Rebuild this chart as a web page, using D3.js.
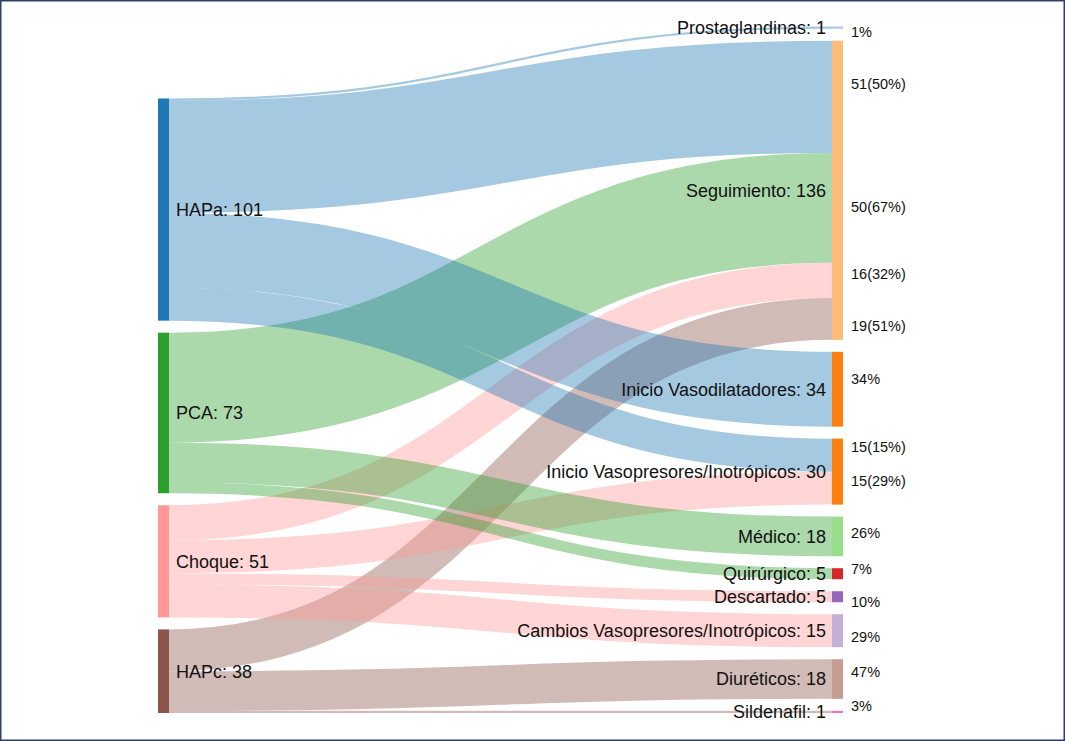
<!DOCTYPE html>
<html>
<head>
<meta charset="utf-8">
<script src="https://cdn.jsdelivr.net/npm/d3@7"></script>
<style>
  body { margin: 0; background: #fff; }
  svg { display: block; font-family: "Liberation Sans", Arial, Helvetica, sans-serif; }
</style>
</head>
<body>
<svg width="1065" height="741"></svg>
<script>
// nodes, left column then right column
let sources = ['HAPa', 'PCA', 'Choque', 'HAPc'];
let targets = [
  'Prostaglandinas',
  'Seguimiento',
  'Inicio Vasodilatadores',
  'Inicio Vasopresores/Inotrópicos',
  'Médico',
  'Quirúrgico',
  'Descartado',
  'Cambios Vasopresores/Inotrópicos',
  'Diuréticos',
  'Sildenafil',
];

// links, listed in target order (this is also the drawing order)
let linkSource = ['HAPa', 'HAPa', 'PCA', 'Choque', 'HAPc', 'HAPa', 'HAPa', 'Choque', 'PCA', 'PCA', 'Choque', 'Choque', 'HAPc', 'HAPc'];
let linkTarget = [
  'Prostaglandinas',
  'Seguimiento',
  'Seguimiento',
  'Seguimiento',
  'Seguimiento',
  'Inicio Vasodilatadores',
  'Inicio Vasopresores/Inotrópicos',
  'Inicio Vasopresores/Inotrópicos',
  'Médico',
  'Quirúrgico',
  'Descartado',
  'Cambios Vasopresores/Inotrópicos',
  'Diuréticos',
  'Sildenafil',
];
let linkValue = [1, 51, 50, 16, 19, 34, 15, 15, 18, 5, 5, 15, 18, 1];
// annotations written to the right of the chart
let linkNote = ['1%', '51(50%)', '50(67%)', '16(32%)', '19(51%)', '34%', '15(15%)', '15(29%)', '26%', '7%', '10%', '29%', '47%', '3%'];

// hand placement of the annotations relative to their link end (px)
let noteNudge = [4, -13, -1, -7, 7, -10, -8, -7, -3, -5, 5, 6, -7, -6];

let color = d3
  .scaleOrdinal()
  .domain([...sources, ...targets])
  .range([
    '#1f77b4', '#2ca02c', '#ff9896', '#8c564b',
    '#aec7e8', '#ffbb78', '#ff7f0e', '#ff7f0e', '#98df8a', '#d62728', '#9467bd', '#c5b0d5', '#c49c94', '#e377c2',
  ]);

let svgWidth = 1065;
let svgHeight = 741;
let nodeWidth = 11;
let nodePadding = 12;
let yTop = 26.5;
let yBottom = 713;

let svg = d3.select('svg');

svg.append('rect').attr('width', svgWidth).attr('height', svgHeight).attr('fill', '#fff');

let links = linkValue.map((v, i) => ({ source: linkSource[i], target: linkTarget[i], value: v, note: linkNote[i], nudge: noteNudge[i] }));

let total = d3.sum(linkValue);
let ky = (yBottom - yTop - (targets.length - 1) * nodePadding) / total;
let hScale = d3.scaleLinear().domain([0, total]).range([0, total * ky]);

let xScale = d3.scaleLinear().domain([0, 1]).range([158, 832]);

// build node objects, stacked from the bottom of the canvas
let nodes = new Map();
[sources, targets].forEach((col, c) => {
  let y = yBottom;
  col
    .slice()
    .reverse()
    .forEach((name) => {
      let value = c === 0 ? d3.sum(links.filter((l) => l.source === name), (l) => l.value) : d3.sum(links.filter((l) => l.target === name), (l) => l.value);
      let h = hScale(value);
      nodes.set(name, { name, value, col: c, x0: xScale(c), x1: xScale(c) + nodeWidth, y0: y - h, y1: y });
      y -= h + nodePadding;
    });
});

// link offsets within each node
sources.forEach((name) => {
  let n = nodes.get(name);
  let y = n.y0;
  links
    .filter((l) => l.source === name)
    .sort((a, b) => targets.indexOf(a.target) - targets.indexOf(b.target))
    .forEach((l) => {
      l.width = hScale(l.value);
      l.y0 = y + l.width / 2;
      y += l.width;
    });
});
targets.forEach((name) => {
  let n = nodes.get(name);
  let y = n.y0;
  links
    .filter((l) => l.target === name)
    .sort((a, b) => sources.indexOf(a.source) - sources.indexOf(b.source))
    .forEach((l) => {
      l.y1 = y + l.width / 2;
      y += l.width;
    });
});

let linkPath = d3
  .linkHorizontal()
  .source((d) => [nodes.get(d.source).x1, d.y0])
  .target((d) => [nodes.get(d.target).x0, d.y1]);

svg
  .append('g')
  .attr('fill', 'none')
  .selectAll('path')
  .data(links)
  .enter()
  .append('path')
  .attr('d', linkPath)
  .attr('stroke', (d) => color(d.source))
  .attr('stroke-opacity', 0.4)
  .attr('stroke-width', (d) => Math.max(1, d.width));

svg
  .append('g')
  .selectAll('rect')
  .data([...nodes.values()])
  .enter()
  .append('rect')
  .attr('x', (d) => d.x0)
  .attr('y', (d) => d.y0)
  .attr('width', (d) => d.x1 - d.x0)
  .attr('height', (d) => Math.max(1, d.y1 - d.y0))
  .attr('fill', (d) => color(d.name));

svg
  .append('g')
  .attr('font-size', 18)
  .attr('fill', '#111')
  .selectAll('text')
  .data([...nodes.values()])
  .enter()
  .append('text')
  .attr('x', (d) => (d.col === 0 ? d.x1 + 7 : d.x0 - 6))
  .attr('y', (d) => (d.y0 + d.y1) / 2)
  .attr('dy', '0.35em')
  .attr('text-anchor', (d) => (d.col === 0 ? 'start' : 'end'))
  .text((d) => `${d.name}: ${d.value}`);

svg
  .append('g')
  .attr('font-size', 14.5)
  .attr('fill', '#111')
  .selectAll('text')
  .data(links)
  .enter()
  .append('text')
  .attr('x', 851)
  .attr('y', (d) => d.y1 + d.nudge)
  .attr('dy', '0.35em')
  .text((d) => d.note);

// frame
svg
  .append('rect')
  .attr('x', 0.75)
  .attr('y', 0.75)
  .attr('width', svgWidth - 1.5)
  .attr('height', svgHeight - 1.5)
  .attr('fill', 'none')
  .attr('stroke', '#2f3d6b')
  .attr('stroke-width', 1.5);
</script>
</body>
</html>
